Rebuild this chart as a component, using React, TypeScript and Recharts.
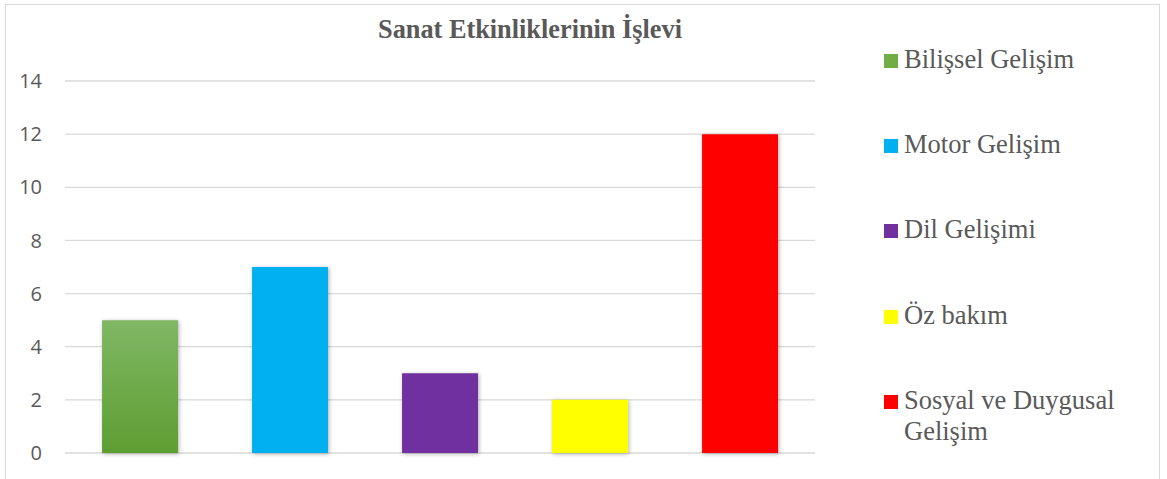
import { BarChart, Bar, YAxis, XAxis, CartesianGrid, Cell } from 'recharts';

const categories = ['Bilişsel Gelişim', 'Motor Gelişim', 'Dil Gelişimi', 'Öz bakım', 'Sosyal ve Duygusal Gelişim'];
const counts = [5, 7, 3, 2, 12];
const colors = ['url(#greenGrad)', '#00B0F0', '#7030A0', '#FFFF00', '#FF0000'];
const swatches = ['#70AD47', '#00B0F0', '#7030A0', '#FFFF00', '#FF0000'];
const yTicks = [0, 2, 4, 6, 8, 10, 12, 14];

const chartData = categories.map((name, i) => ({ name, value: counts[i] }));

const serif = '"Liberation Serif", "Times New Roman", serif';

function SideLegend() {
  return (
    <div style={{ position: 'absolute', left: 884, top: 44, fontFamily: serif, fontSize: 26.5, color: '#595959' }}>
      {categories.map((c, i) => (
        <div key={c} style={{ display: 'flex', alignItems: 'flex-start', height: 85.2, width: 270 }}>
          <span style={{ width: 14, height: 14, background: swatches[i], marginTop: 10, marginRight: 6, flexShrink: 0 }} />
          <span style={{ lineHeight: '31px', width: 240 }}>{c}</span>
        </div>
      ))}
    </div>
  );
}

export default function App() {
  return (
    <div style={{ position: 'absolute', left: 0, top: 0, width: 1167, height: 479, background: '#fff', overflow: 'hidden' }}>
      <div style={{ position: 'absolute', left: 5, top: 4, width: 1153, height: 500, border: '1.5px solid #d9d9d9' }} />
      <div
        style={{
          position: 'absolute',
          left: 280,
          width: 500,
          top: 15,
          textAlign: 'center',
          fontFamily: serif,
          fontWeight: 'bold',
          fontSize: 26.3,
          color: '#595959',
        }}
      >
        Sanat Etkinliklerinin İşlevi
      </div>
      <BarChart
        width={1167}
        height={479}
        data={chartData}
        margin={{ top: 81, right: 352, left: 15, bottom: 26 }}
        barCategoryGap="24.7%"
      >
        <defs>
          <linearGradient id="greenGrad" x1="0" y1="0" x2="0" y2="1">
            <stop offset="0%" stopColor="#80B764" />
            <stop offset="100%" stopColor="#5D9E31" />
          </linearGradient>
        </defs>
        <CartesianGrid vertical={false} stroke="#d9d9d9" strokeWidth={1.3} />
        <XAxis dataKey="name" hide />
        <YAxis
          width={50}
          domain={[0, 14]}
          ticks={yTicks}
          axisLine={false}
          tickLine={false}
          tickSize={0}
          tickMargin={23}
          tick={{ fill: '#595959', fontSize: 20, fontFamily: '"Open Sans", sans-serif' }}
        />
        <Bar dataKey="value" isAnimationActive={false}>
          {chartData.map((d, i) => (
            <Cell key={d.name} fill={colors[i]} style={{ filter: 'drop-shadow(1px 1px 2px rgba(0,0,0,0.3))' }} />
          ))}
        </Bar>
      </BarChart>
      <SideLegend />
    </div>
  );
}
